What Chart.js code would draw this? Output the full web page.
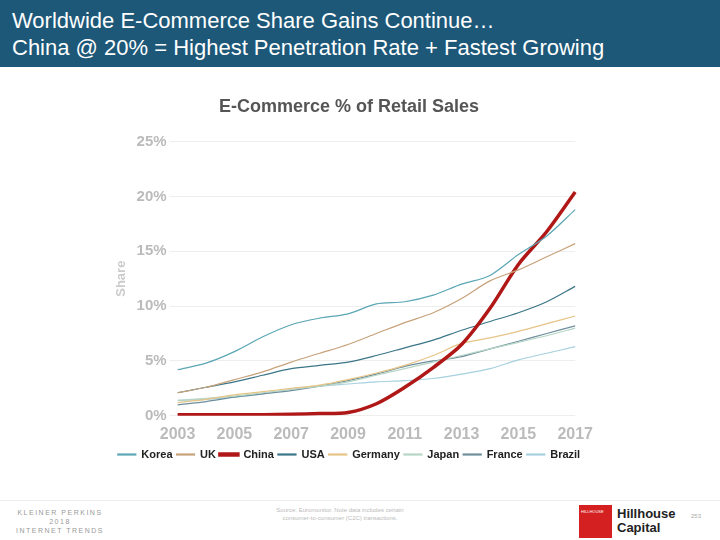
<!DOCTYPE html>
<html>
<head>
<meta charset="utf-8">
<script src="https://cdn.jsdelivr.net/npm/chart.js@4"></script>
<style>
  body { margin: 0; width: 720px; height: 540px; background: #fff; font-family: Arial, "Liberation Sans", sans-serif; position: relative; overflow: hidden; }
  .header { position: absolute; left: 0; top: 0; width: 720px; height: 67px; background: #1d5878; color: #fff; font-size: 22px; line-height: 27px; padding: 7px 0 0 12px; box-sizing: border-box; }
  .chartbox { position: absolute; left: 110px; top: 92px; width: 484px; height: 378px; }
  .footline { position: absolute; left: 0; top: 500px; width: 720px; border-top: 1px solid #eee; }
  .kp { position: absolute; left: 0px; top: 508px; width: 120px; text-align: center; font-size: 7px; letter-spacing: 1.5px; color: #999; line-height: 9px; white-space: nowrap; }
  .src { position: absolute; left: 250px; top: 506px; width: 180px; text-align: center; font-size: 6px; color: #bbb; line-height: 8px; }
  .logo { position: absolute; left: 579px; top: 505px; width: 33px; height: 33px; background: #d42020; }
  .logo span { color: #fff; font-size: 4px; position: absolute; top: 4px; left: 2px; }
  .hh { position: absolute; left: 617px; top: 507px; font-size: 13px; font-weight: bold; color: #222; line-height: 14px; }
  .pg { position: absolute; left: 691px; top: 513px; font-size: 6px; color: #aaa; }
</style>
</head>
<body>
<div class="header">Worldwide E-Commerce Share Gains Continue…<br>China @ 20% = Highest Penetration Rate + Fastest Growing</div>
<div class="chartbox"><canvas id="c"></canvas></div>
<div class="footline"></div>
<div class="kp">KLEINER PERKINS<br>2018<br>INTERNET TRENDS</div>
<div class="src">Source: Euromonitor. Note data includes certain<br>consumer-to-consumer (C2C) transactions.</div>
<div class="logo"><span>HILLHOUSE</span></div>
<div class="hh">Hillhouse<br>Capital</div>
<div class="pg">253</div>
<script>
const years = ['2003','2004','2005','2006','2007','2008','2009','2010','2011','2012','2013','2014','2015','2016','2017'];
const korea   = [4.2,4.8,5.85,7.2,8.3,8.9,9.3,10.2,10.4,11.0,12.0,12.8,14.7,16.4,18.8];
const uk      = [2.1,2.6,3.3,4.0,4.9,5.7,6.5,7.5,8.5,9.4,10.7,12.3,13.3,14.5,15.7];
const china   = [0.1,0.1,0.1,0.1,0.15,0.2,0.3,1.1,2.6,4.4,6.5,9.8,13.8,16.8,20.4];
const usa     = [2.1,2.6,3.1,3.7,4.3,4.6,4.9,5.5,6.2,6.9,7.8,8.6,9.4,10.4,11.8];
const germany = [1.2,1.5,1.9,2.2,2.5,2.8,3.3,3.9,4.6,5.5,6.6,7.1,7.7,8.4,9.1];
const japan   = [1.4,1.6,1.8,2.1,2.4,2.7,3.1,3.7,4.3,4.9,5.5,6.1,6.7,7.3,8.0];
const france  = [1.0,1.3,1.7,2.0,2.3,2.7,3.2,3.8,4.5,5.0,5.4,6.1,6.8,7.5,8.2];
const brazil  = [1.4,1.5,1.7,2.0,2.4,2.7,2.9,3.1,3.2,3.4,3.8,4.3,5.1,5.7,6.3];

function line(label, data, color, width) {
    return { label: label, data: data, borderColor: color, backgroundColor: color, borderWidth: width, pointRadius: 0, tension: 0.3 };
}

new Chart(document.getElementById('c').getContext('2d'), {
    type: 'line',
    data: {
        labels: years,
        datasets: [
            line('Korea', korea, '#5aa6b4', 1.2),
            line('UK', uk, '#c8a27a', 1.2),
            line('China', china, '#b01818', 3.5),
            line('USA', usa, '#3b7688', 1.2),
            line('Germany', germany, '#e6c486', 1.2),
            line('Japan', japan, '#b6d6c6', 1.2),
            line('France', france, '#6e8e9c', 1.2),
            line('Brazil', brazil, '#a6d0de', 1.2)
        ]
    },
    options: {
        responsive: true,
        maintainAspectRatio: false,
        animation: false,
        layout: { padding: { right: 6 } },
        plugins: {
            title: { display: true, text: 'E-Commerce % of Retail Sales', color: '#555', font: { size: 18, weight: 'bold', family: 'Arial' }, padding: { top: 4, bottom: 24 } },
            legend: {
                position: 'bottom',
                labels: { boxWidth: 18, boxHeight: 1, color: '#222', font: { size: 11, weight: 'bold', family: 'Arial' }, padding: 4 }
            }
        },
        scales: {
            x: {
                grid: { display: false },
                border: { display: false },
                ticks: { color: '#bbb', padding: 1, font: { size: 16, weight: 'bold', family: 'Arial' }, autoSkip: false, maxRotation: 0,
                    callback: function (v, i) { return i % 2 === 0 ? years[i] : ''; } }
            },
            y: {
                min: 0, max: 25,
                title: { display: true, text: 'Share', color: '#ccc', font: { size: 13, weight: 'bold', family: 'Arial' } },
                grid: { color: '#eee' },
                border: { display: false },
                ticks: { stepSize: 5, color: '#bbb', font: { size: 15, weight: 'bold', family: 'Arial' },
                    callback: function (v) { return v + '%'; } }
            }
        }
    }
});
</script>
</body>
</html>
